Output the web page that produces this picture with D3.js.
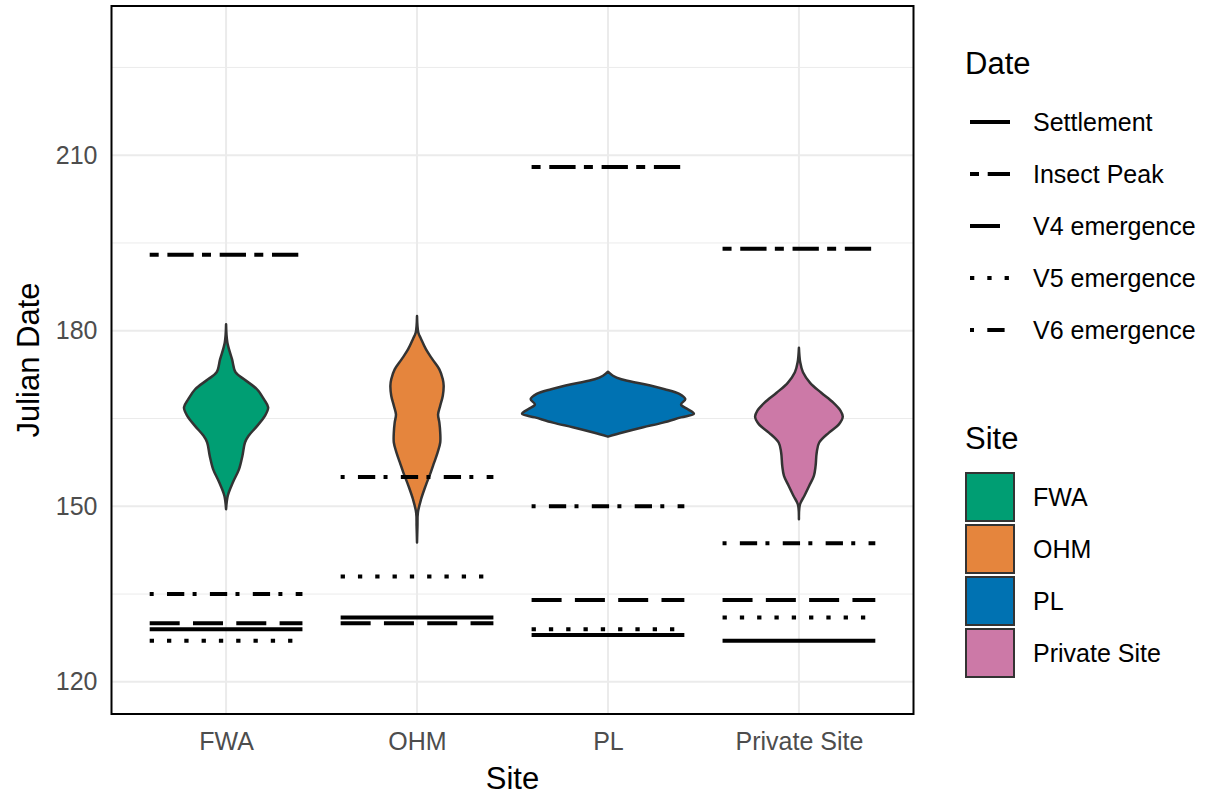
<!DOCTYPE html>
<html><head><meta charset="utf-8">
<script src="https://cdn.jsdelivr.net/npm/d3@7"></script>
<style>body{margin:0;background:#fff} svg{display:block;font-family:"Liberation Sans",Arial,sans-serif}</style>
</head><body><svg id="c" width="1206" height="795"></svg>
<script>
// ---- data ----
const categories = ["FWA", "OHM", "PL", "Private Site"];
const siteColors = ["#009E73", "#E5853D", "#0072B2", "#CC79A7"];
const dateTypes = ["Settlement", "Insect Peak", "V4 emergence", "V5 emergence", "V6 emergence"];
const settlement = [129, 131, 128, 127];
const insectPeak = [193, null, 208, 194];
const v4Emergence = [130, 130, 134, 134];
const v5Emergence = [127, 138, 129, 131];
const v6Emergence = [135, 155, 150, 143.7];
const yTicks = [120, 150, 180, 210];
const yMinorTicks = [135, 165, 195, 225];

// violin profiles (julian date, relative density)
const fwaDate = [181.1,178.0,175.1,172.9,171.7,170.0,168.3,166.9,165.4,163.7,162.0,160.9,158.6,156.3,154.1,151.8,149.5];
const fwaDensity = [0,0.015,0.07,0.11,0.21,0.36,0.44,0.49,0.45,0.36,0.26,0.22,0.19,0.15,0.08,0.02,0];
const ohmDate = [182.5,179.7,178.6,176.8,175.1,173.4,171.7,170.6,168.9,167.2,165.7,164.3,162.6,160.9,159.2,157.5,155.8,153.5,151.2,148.9,146.6,143.8];
const ohmDensity = [0,0.015,0.047,0.105,0.18,0.26,0.30,0.31,0.30,0.27,0.245,0.26,0.27,0.27,0.24,0.20,0.16,0.10,0.047,0.01,0.005,0];
const plDate = [173.0,172.3,171.7,170.9,170.0,169.2,168.3,167.4,166.6,165.8,165.2,164.3,163.5,162.6,161.9];
const plDensity = [0,0.058,0.155,0.41,0.66,0.83,0.90,0.85,0.93,1.0,0.85,0.64,0.41,0.17,0];
const prvDate = [177.1,174.6,172.9,171.1,169.4,167.7,166.3,165.3,164.0,162.6,160.9,159.2,156.9,155.2,153.5,151.8,150.3,147.8];
const prvDensity = [0,0.015,0.047,0.13,0.26,0.40,0.485,0.51,0.465,0.35,0.236,0.207,0.194,0.174,0.12,0.064,0.012,0];

// ---- build ----
const dateSeries = [settlement, insectPeak, v4Emergence, v5Emergence, v6Emergence];
const dashes = [null, "9 8.7 26.3 8.3", "30 13.3", "4.3 13", "4 13.3 17.3 8.3"];
const violins = [[fwaDate, fwaDensity], [ohmDate, ohmDensity], [plDate, plDensity], [prvDate, prvDensity]];

const svg = d3.select("#c");
const P = {l: 111.5, r: 913.5, t: 6, b: 714};
const x = d3.scalePoint().domain(categories).range([P.l, P.r]).padding(0.6);
const y = d3.scaleLinear().domain([114.5, 235.5]).range([P.b, P.t]);
const w = d3.scaleLinear().domain([0, 1]).range([0, x.step() * 0.45]);

const grid = svg.append("g");
yMinorTicks.forEach(t => grid.append("line").attr("x1", P.l).attr("x2", P.r).attr("y1", y(t)).attr("y2", y(t)).attr("stroke", "#EBEBEB").attr("stroke-width", 1));
yTicks.forEach(t => grid.append("line").attr("x1", P.l).attr("x2", P.r).attr("y1", y(t)).attr("y2", y(t)).attr("stroke", "#EBEBEB").attr("stroke-width", 2));
categories.forEach(c => grid.append("line").attr("x1", x(c)).attr("x2", x(c)).attr("y1", P.t).attr("y2", P.b).attr("stroke", "#EBEBEB").attr("stroke-width", 2));

// violins
categories.forEach((c, i) => {
  const [dd, dn] = violins[i];
  const pts = dd.map((d, k) => ({v: d, den: dn[k]}));
  const area = d3.area().curve(d3.curveCatmullRom.alpha(0.5))
    .y(p => y(p.v)).x0(p => x(c) - w(p.den)).x1(p => x(c) + w(p.den));
  svg.append("path").attr("d", area(pts)).attr("fill", siteColors[i])
    .attr("stroke", "#333333").attr("stroke-width", 2.5).attr("stroke-linejoin", "round");
});

// date segments
dateSeries.forEach((arr, j) => {
  arr.forEach((v, i) => {
    if (v == null) return;
    const cx = x(categories[i]), hw = x.step() * 0.4;
    svg.append("line").attr("x1", cx - hw).attr("x2", cx + hw).attr("y1", y(v)).attr("y2", y(v))
      .attr("stroke", "#000").attr("stroke-width", 4).attr("stroke-dasharray", dashes[j]);
  });
});

// border
svg.append("rect").attr("x", P.l).attr("y", P.t).attr("width", P.r - P.l).attr("height", P.b - P.t)
  .attr("fill", "none").attr("stroke", "#000").attr("stroke-width", 2);

// axes
const ax = d3.axisLeft(y).tickValues(yTicks).tickSize(0).tickPadding(14);
const gy = svg.append("g").attr("transform", `translate(${P.l},0)`).call(ax);
gy.select(".domain").remove();
gy.selectAll("text").attr("font-size", 25).attr("fill", "#4D4D4D").attr("font-family", null);
const bx = d3.axisBottom(x).tickSize(0).tickPadding(18);
const gx = svg.append("g").attr("transform", `translate(0,${P.b})`).call(bx);
gx.select(".domain").remove();
gx.selectAll("text").attr("font-size", 25).attr("fill", "#4D4D4D").attr("font-family", null);

svg.append("text").attr("x", (P.l + P.r) / 2).attr("y", 789).attr("text-anchor", "middle").attr("font-size", 31).text("Site");
svg.append("text").attr("transform", `translate(39,${(P.t + P.b) / 2}) rotate(-90)`).attr("text-anchor", "middle").attr("font-size", 31).text("Julian Date");

// legend: Date
const lg = svg.append("g");
lg.append("text").attr("x", 965).attr("y", 74).attr("font-size", 31).text("Date");
dateTypes.forEach((d, j) => {
  const cy = 122 + j * 52;
  lg.append("line").attr("x1", 970).attr("x2", 1010).attr("y1", cy).attr("y2", cy)
    .attr("stroke", "#000").attr("stroke-width", 4).attr("stroke-dasharray", dashes[j]);
  lg.append("text").attr("x", 1033).attr("y", cy).attr("dy", "0.35em").attr("font-size", 25).text(d);
});
// legend: Site
lg.append("text").attr("x", 965).attr("y", 449).attr("font-size", 31).text("Site");
categories.forEach((c, i) => {
  const cy = 497 + i * 52;
  lg.append("rect").attr("x", 966).attr("y", cy - 24).attr("width", 48).attr("height", 48)
    .attr("fill", siteColors[i]).attr("stroke", "#333333").attr("stroke-width", 2);
  lg.append("text").attr("x", 1033).attr("y", cy).attr("dy", "0.35em").attr("font-size", 25).text(c);
});
</script></body></html>
